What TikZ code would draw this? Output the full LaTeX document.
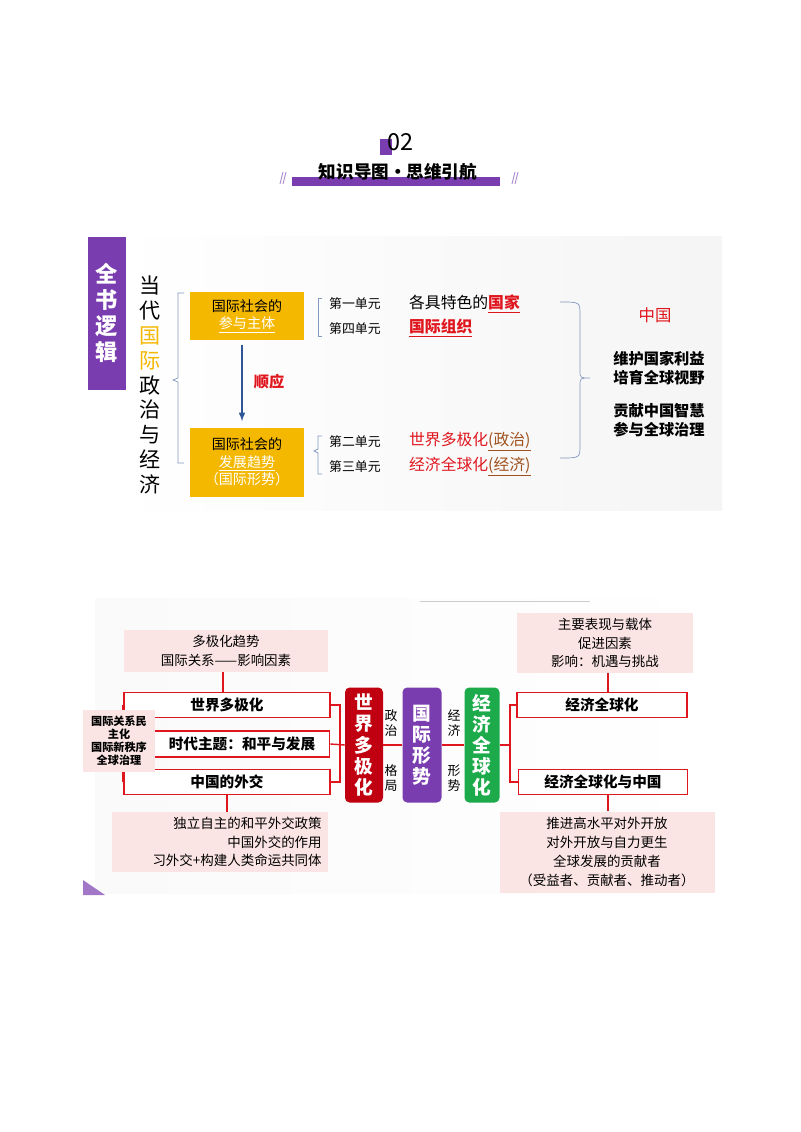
\documentclass[tikz,border=0pt]{standalone}
\usepackage{fontspec}
\setmainfont{Noto Sans CJK SC}
\usetikzlibrary{calc}
\definecolor{pur}{HTML}{7A3DB0}
\definecolor{gold}{HTML}{F5B800}
\definecolor{rd}{HTML}{E0161E}
\definecolor{drd}{HTML}{C00010}
\definecolor{brn}{HTML}{A0521E}
\definecolor{grn}{HTML}{1CAA4A}
\definecolor{pk}{HTML}{FBE4E4}
\definecolor{bl}{HTML}{2F5597}
\tikzset{
 gbox/.style={fill=gold,draw=none,text=black,align=center,font=\fontsize{12}{15}\selectfont},
 pkbox/.style={fill=pk,draw=none,font=\fontsize{11.5}{16}\selectfont},
 rbox/.style={draw=rd,line width=1.4pt,fill=white,font=\bfseries\fontsize{12.5}{14}\selectfont},
 vbox/.style={rounded corners=4pt,text=white,font=\bfseries\fontsize{16}{18}\selectfont,align=center,inner sep=0pt},
 unit/.style={font=\fontsize{11}{13}\selectfont,anchor=west},
 bk/.style={font=\bfseries\fontsize{13}{16}\selectfont},
 rl/.style={draw=rd,line width=1.2pt},
 brc/.style={draw=bl!60,line width=0.6pt}
}
\begin{document}
\begin{tikzpicture}[x=0.03cm,y=-0.03cm]
\useasboundingbox (0,0) rectangle (800,1132);
\fill[white] (0,0) rectangle (800,1132);
% title
\fill[pur] (380,139) rectangle (392,155);
\node (t02) at (400,142) {\fontsize{20}{22}\selectfont 02};
\fill[pur] (292,177) rectangle (500,186);
\node (ttl) at (398,172) {\bfseries\fontsize{15}{17}\selectfont 知识导图·思维引航};
\draw[pur!60,line width=0.8pt] (280,184)--(283,172) (283,184)--(286,172) (512,184)--(515,172) (515,184)--(518,172);
% upper panel
\shade[left color=white,right color=gray!8] (115,237) rectangle (722,510);
\fill[pur] (88,237) rectangle (126,390);
\node[text=white,align=center,font=\bfseries\fontsize{19}{22}\selectfont] (qs) at (107,313) {全\\书\\逻\\辑};
\node[align=center,font=\fontsize{18}{21.2}\selectfont] (dd) at (150,385) {当\\代\\{\color{gold}国}\\{\color{gold}际}\\政\\治\\与\\经\\济};
\draw[brc] (184,293) -- (178,293) -- (178,378) -- (173,380) -- (178,382) -- (178,463) -- (184,463);
\node[gbox,text width=3.2cm,minimum width=3.42cm,minimum height=1.41cm] (g1) at (247,316) {国际社会的\\{\color{white}\underline{参与主体}}};
\node[gbox,text width=3.2cm,minimum width=3.42cm,minimum height=2.07cm] (g2) at (247,462) {国际社会的\\{\color{white}\underline{发展趋势}}\\{\color{white}（国际形势）}};
\draw[bl,line width=1.5pt,-latex] ($(g1.south)+(-5,5)$) -- ($(g2.north)+(-5,-6)$);
\node[text=rd,font=\bfseries\fontsize{13}{15}\selectfont] (sy) at (269,382) {顺应};
\draw[brc] (322,298)--(318,298)--(318,336)--(322,336);
\draw[brc] (322,436)--(318,436)--(318,449)--(314,451)--(318,453)--(318,474)--(322,474);
\node[unit] (u1) at (325,304) {第一单元};
\node[unit] (u4) at (325,329) {第四单元};
\node[unit] (u2) at (325,442) {第二单元};
\node[unit] (u3) at (325,467) {第三单元};
\node[anchor=west,font=\fontsize{13.5}{15}\selectfont] (c1) at (405,304) {各具特色的{\color{rd}\bfseries\underline{国家}}};
\node[anchor=west,text=rd,font=\bfseries\fontsize{13.5}{15}\selectfont] (c4) at (405,328) {\underline{国际组织}};
\node[anchor=west,text=rd,font=\fontsize{13.5}{15}\selectfont] (c2) at (405,442) {世界多极化{\color{brn}\underline{(政治)}}};
\node[anchor=west,text=rd,font=\fontsize{13.5}{15}\selectfont] (c3) at (405,466) {经济全球化{\color{brn}\underline{(经济)}}};
\draw[brc] (560,302) .. controls (580,302) and (580,302) .. (580,315) -- (580,370) .. controls (580,378) .. (590,378) .. controls (580,378) .. (580,386) -- (580,445) .. controls (580,458) .. (560,458);
\node[text=rd,font=\fontsize{14}{16}\selectfont] (zg) at (655,315) {中国};
\node[bk,align=left] (w1) at (659,368) {维护国家利益\\培育全球视野};
\node[bk,align=left] (w2) at (659,420) {贡献中国智慧\\参与全球治理};
% lower panel
\shade[left color=gray!4,right color=white] (95,598) rectangle (718,893);
\draw[gray!40] (420,601) -- (590,601);
\fill[pur!70] (83,880) -- (83,895) -- (105,895) -- cycle;
\node[pkbox,minimum width=6.1cm,minimum height=1.26cm,align=center] (p1) at (226,651) {多极化趋势\\国际关系——影响因素};
\node[pkbox,minimum width=5.28cm,minimum height=1.8cm,align=center] (p2) at (605,643) {主要表现与载体\\促进因素\\影响：机遇与挑战};
\node[pkbox,minimum width=6.45cm,minimum height=1.8cm,align=right,text width=6.1cm] (p3) at (220,842) {独立自主的和平外交政策\\中国外交的作用\\习外交+构建人类命运共同体};
\node[pkbox,minimum width=6.45cm,minimum height=2.43cm,align=center] (p4) at (607,852) {推进高水平对外开放\\对外开放与自力更生\\全球发展的贡献者\\（受益者、贡献者、推动者）};
\node[rbox,minimum width=6.18cm,minimum height=0.75cm] (b1) at (227,705) {世界多极化};
\node[rbox,minimum width=5.25cm,minimum height=0.78cm] (b2) at (242,744) {时代主题：和平与发展};
\node[rbox,minimum width=6.18cm,minimum height=0.75cm] (b3) at (227,782) {中国的外交};
\node[rbox,minimum width=5.1cm,minimum height=0.75cm] (b4) at (602,705) {经济全球化};
\node[rbox,minimum width=5.07cm,minimum height=0.75cm] (b5) at (603,782) {经济全球化与中国};
\draw[rl] (b1.west) -- (b3.west);
\node[fill=pk,align=center,font=\bfseries\fontsize{9.5}{11}\selectfont,inner sep=1pt,minimum width=2.16cm,minimum height=1.86cm] (side) at (119,741) {国际关系民\\主化\\国际新秩序\\全球治理};
\node[vbox,fill=drd,minimum width=1.14cm,minimum height=3.45cm] (v1) at (364,745) {世\\界\\多\\极\\化};
\node[vbox,fill=pur,minimum width=1.17cm,minimum height=3.45cm] (v2) at (422,745) {国\\际\\形\\势};
\node[vbox,fill=grn,minimum width=1.05cm,minimum height=3.45cm] (v3) at (482,745) {经\\济\\全\\球\\化};
\node[align=center,font=\fontsize{11}{13}\selectfont] (l1) at (391,723) {政\\治};
\node[align=center,font=\fontsize{11}{13}\selectfont] (l2) at (391,778) {格\\局};
\node[align=center,font=\fontsize{11}{13}\selectfont] (l3) at (454,723) {经\\济};
\node[align=center,font=\fontsize{11}{13}\selectfont] (l4) at (454,778) {形\\势};
\coordinate (rb) at (510,745);
\draw[rl] (b1.east) -- (340,705) -- (340,782) -- (b3.east);
\draw[rl] (b2.east) -- (v1.west);
\draw[rl] (v1.east) -- (v2.west);
\draw[rl] (v2.east) -- (v3.west);
\draw[rl] (v3.east) -- (rb);
\draw[rl] (b4.west) -- (510,705) -- (510,782) -- (b5.west);
\draw[rl] ($(p1.south)+(-3,0)$) -- ($(b1.north)+(-4,0)$);
\draw[rl] (b3.south) -- ($(p3.north)+(7,0)$);
\draw[rl] ($(p2.south)+(3,0)$) -- ($(b4.north)+(6,0)$);
\draw[rl] ($(b5.south)+(5,0)$) -- ($(p4.north)+(1,0)$);
\end{tikzpicture}
\end{document}
